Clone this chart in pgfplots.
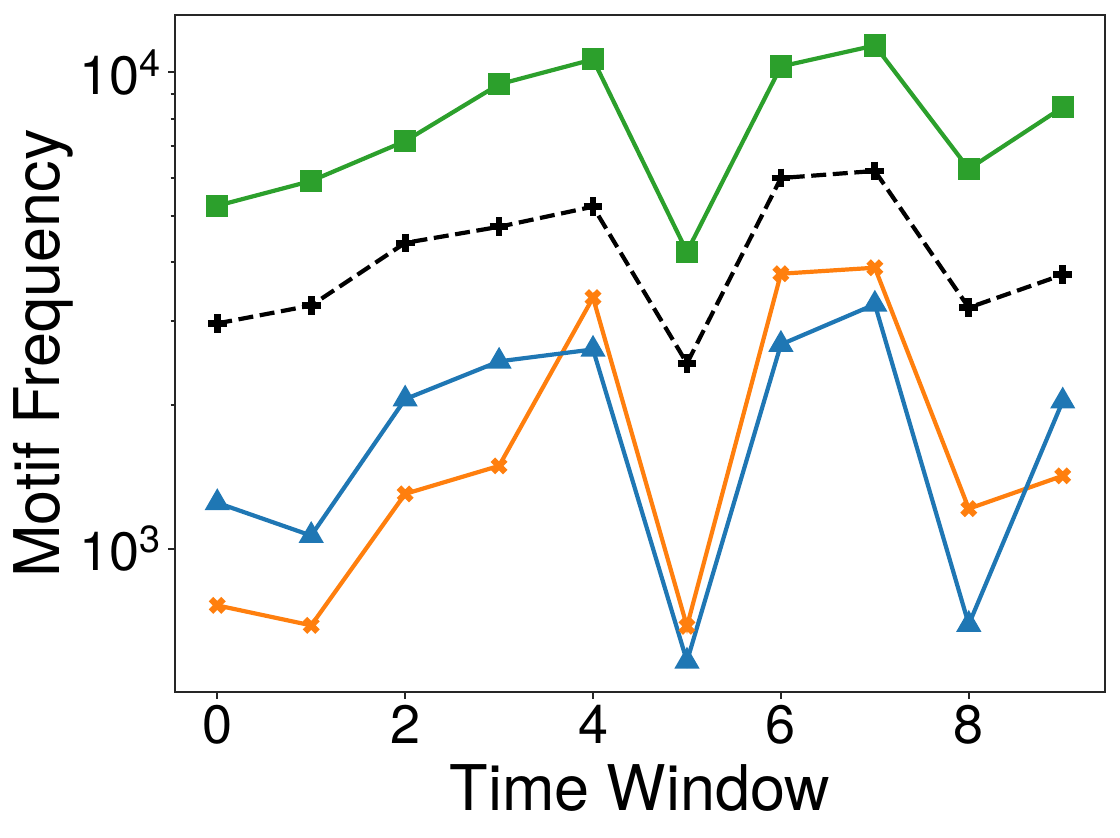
\documentclass[border=0pt]{standalone}
\usepackage{fontspec}
\setmainfont{TeX Gyre Heros}
\usepackage{pgfplots}
\pgfplotsset{compat=1.18}
\definecolor{tabblue}{HTML}{1F77B4}
\definecolor{taborange}{HTML}{FF7F0E}
\definecolor{tabgreen}{HTML}{2CA02C}
\definecolor{framegray}{HTML}{262626}
\begin{document}
\begin{tikzpicture}
\begin{axis}[
  scale only axis,
  width=465pt, height=338.5pt,
  ymode=log,
  xmin=-0.45, xmax=9.45,
  ymin=500, ymax=13200,
  xtick={0,2,4,6,8},
  ytick={1000,10000},
  yticklabels={10\textsuperscript{3},10\textsuperscript{4}},
  /pgf/number format/assume math mode=true,
  tick label style={font=\fontsize{27}{32}\selectfont, text=black},
  label style={font=\fontsize{31.5}{38}\selectfont},
  xlabel={Time Window},
  ylabel={Motif Frequency},
  xtick pos=left, ytick pos=left,
  tick align=outside,
  major tick length=3.3pt,
  minor tick length=2.2pt,
  every tick/.style={framegray, line width=1pt},
  axis line style={framegray, line width=1pt},
  xlabel style={yshift=-3pt},
  ylabel style={yshift=-4pt},
  every axis plot/.append style={line width=2.1pt},
]
\addplot[tabgreen, mark=square*, mark size=4.5pt, mark options={solid}] coordinates {
(0,5248) (1,5916) (2,7173) (3,9441) (4,10650) (5,4200) (6,10290) (7,11390) (8,6270) (9,8450)};
\addplot[black, dash pattern=on 7.5pt off 3.3pt, mark=+, mark size=4.7pt, mark options={solid, line width=3.4pt}] coordinates {
(0,2971) (1,3240) (2,4385) (3,4740) (4,5225) (5,2449) (6,6000) (7,6210) (8,3206) (9,3760)};
\addplot[taborange, mark=x, mark size=4.4pt, mark options={solid, line width=3.2pt}] coordinates {
(0,760) (1,690) (2,1303) (3,1492) (4,3366) (5,687) (6,3778) (7,3890) (8,1213) (9,1422)};
\addplot[tabblue, mark=triangle*, mark size=5.2pt, mark options={solid}] coordinates {
(0,1248) (1,1065) (2,2060) (3,2473) (4,2620) (5,580) (6,2683) (7,3258) (8,693) (9,2040)};
\end{axis}
\pgfresetboundingbox
\path ([shift={(-87.5pt,-72.5pt)}]current axis.south west) rectangle ([shift={(7.5pt,7.5pt)}]current axis.north east);
\end{tikzpicture}
\end{document}
